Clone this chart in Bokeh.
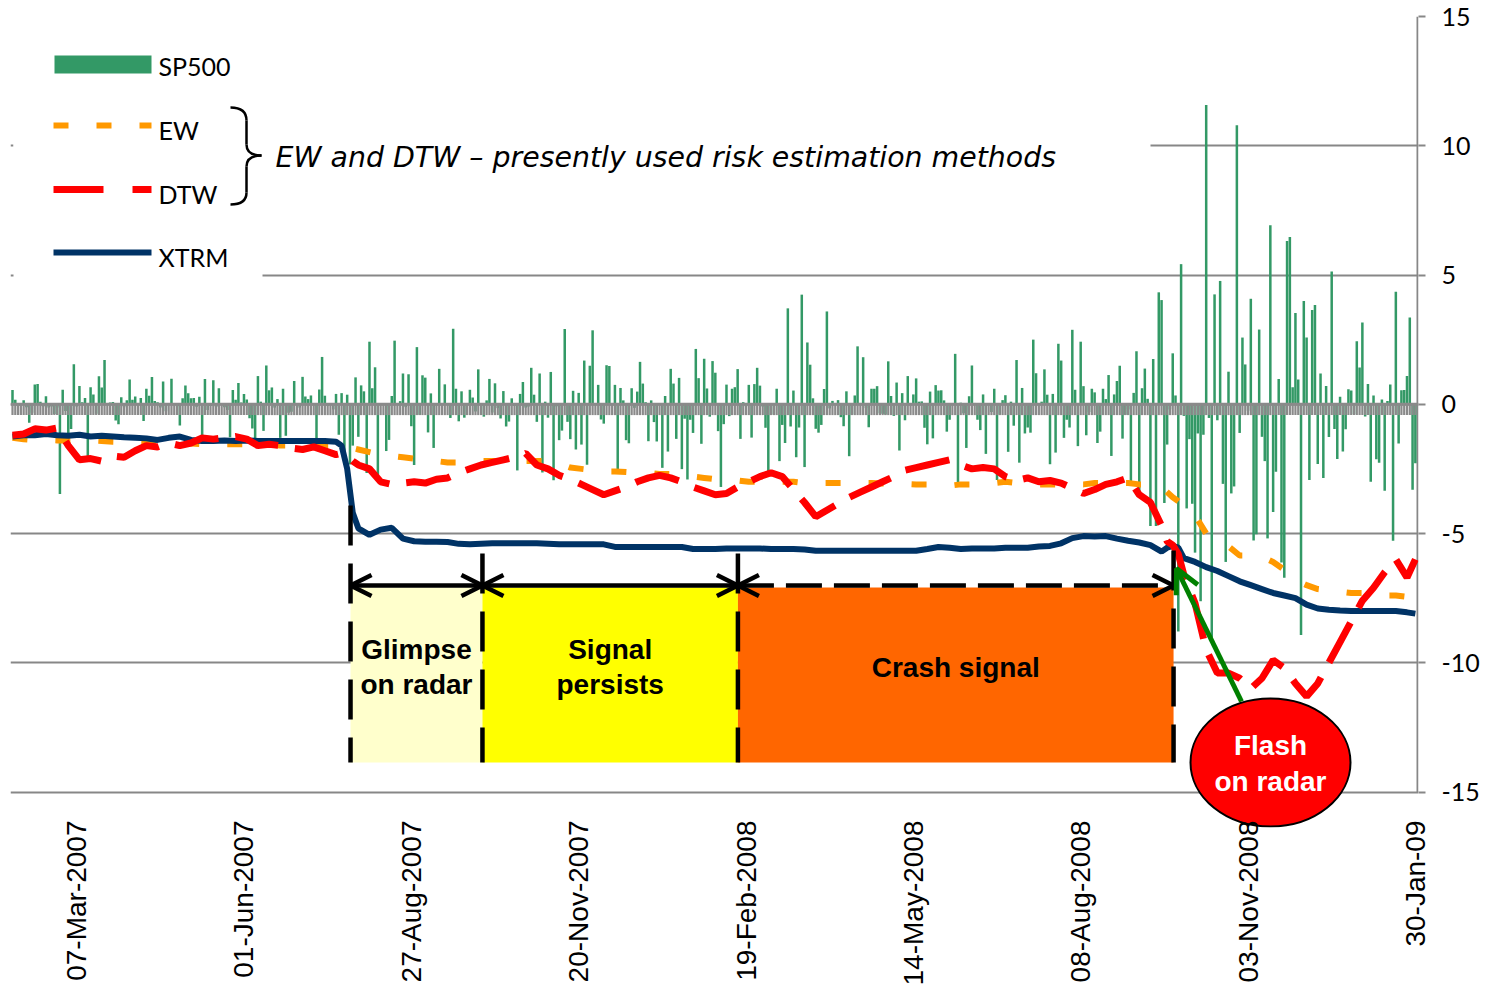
from math import pi
from bokeh.plotting import figure
from bokeh.models import Range1d, FixedTicker, Arrow, OpenHead
from bokeh.core.properties import value
from bokeh.embed import file_html
from bokeh.resources import INLINE

# ---------------- data ----------------
# SP500 daily returns (%) per trading day, Feb-2007 .. Jan-2009
feb07 = [0.55, 0.17, -0.07, 0.05, 0.15, -0.12, -0.72, -0.33, 0.76, 0.78, 0.10, -0.09, 0.31, -0.13, -0.09, -0.38, -0.13, -3.47, 0.56]
mar07 = [-0.26, -1.15, -0.96, 1.55, -0.09, 0.71, 0.08, 0.24, -2.04, 0.66, 0.38, -0.37, 1.08, 0.65, 1.71, -0.03, 0.07, 0.09, -0.63, -0.77, 0.27, -0.12]
apr07 = [0.15, 0.96, 0.17, 0.30, 0.00, 0.24, -0.65, 0.60, 0.33, 1.05, 0.13, 0.08, -0.13, 0.88, -0.27, -0.01, 0.99, -0.02, -0.08, -0.82]
may07 = [0.23, 0.73, 0.43, 0.23, 0.24, -0.10, 0.29, -1.41, 0.98, -0.22, -0.07, 0.93, -0.11, 0.62, -0.03, -0.12, -0.22, -1.28, 0.55, 0.17, 0.82, 0.07]
jun07 = [0.40, 0.18, -0.54, -0.94, -1.50, 1.09, 0.10, -1.03, 1.50, 0.54, 0.65, -0.13, 0.20, -1.30, 0.60, -1.22, -0.33, -0.29, 0.90, -0.03, -0.13]
jul07 = [1.06, 0.30, 0.20, 0.34, 0.04, -1.40, 0.57, 1.83, 0.33, -0.06, 0.01, -0.20, 0.40, -1.18, 0.43, -2.00, 0.37, -2.33, -1.60, 1.04, -1.26]
aug07 = [0.73, 0.50, -2.66, 2.42, 0.62, 1.43, -2.96, 0.04, -0.03, -1.81, -1.38, 0.32, 2.46, -0.03, 0.12, 1.19, -0.11, 1.16, -0.85, -2.35, 2.21, -0.41, 1.12]
sep07 = [1.03, -1.09, 0.42, -1.69, -0.04, 1.37, -0.02, 0.77, 0.03, -0.53, 2.92, 0.60, -0.66, 0.50, -0.52, 0.00, 0.56, 0.26, -0.28]
oct07 = [1.35, -0.05, -0.48, 0.15, 0.98, -0.32, 0.81, -0.15, -0.55, 0.51, -0.86, -0.67, 0.23, -0.06, -2.56, 0.40, 0.86, -0.13, -0.09, 1.41, 0.37, -0.68, 1.19]
nov07 = [-2.64, 0.10, -0.52, 1.25, -2.94, -0.08, -1.39, -1.02, 2.91, -0.68, -1.35, 0.52, -1.75, 0.44, -1.56, 1.69, -2.34, 1.49, 2.86, 0.03, 0.75]
dec07 = [-0.59, -0.75, 1.51, 1.48, -0.04, 0.75, -2.53, 0.63, 0.15, -1.39, -1.51, 0.62, -0.14, 0.49, 1.64, 0.80, 0.08, -1.43, 0.15, -0.69]
jan08 = [-1.44, 0.00, -2.46, 0.32, -1.83, 1.37, 0.80, -1.34, 1.02, -2.51, -0.56, -2.91, -0.60, -1.11, 2.14, 1.01, -1.53, 1.76, 0.61, -0.48, 1.67]
feb08 = [1.22, -1.04, -3.20, -0.77, 0.76, -0.46, 0.60, 0.66, 1.36, -1.34, 0.08, -0.08, 0.75, -1.29, 0.78, 1.41, 0.72, -0.09, -0.91, -2.71]
mar08 = [0.00, -0.40, 0.60, -2.20, -0.80, -1.50, 3.71, -0.86, 0.53, -2.05, -0.90, 4.24, -2.43, 2.39, 1.53, 0.23, -0.95, -1.10, -0.80, 0.59]
apr08 = [3.59, -0.16, 0.13, 0.00, 0.16, -0.50, -0.85, 0.50, -2.01, -0.40, 0.34, 2.24, 0.05, 1.82, -0.15, -0.89, 0.60, 0.60, 0.70, -0.35, -0.37, -0.40]
may08 = [1.66, 0.32, -0.45, 0.84, -1.79, 0.43, -0.62, 1.09, -0.04, 0.38, 1.00, 0.10, 0.11, -0.91, -1.55, 0.49, -1.32, 0.74, 0.53, 0.54, 0.15]
jun08 = [-1.06, -0.60, -0.02, 1.95, -3.09, 0.06, -0.35, -1.69, 0.31, 1.50, 0.05, -0.60, -1.00, 0.38, -1.92, 0.00, -0.30, 0.60, -2.93, -0.40, 0.16]
jul08 = [0.35, -1.84, 0.10, -0.83, 1.71, -2.26, 0.63, -1.13, -0.90, -1.10, 2.50, 1.20, 0.03, 0.10, 1.35, 0.37, -2.32, 0.40, -1.87, 2.34, 1.69, -1.30]
aug08 = [-0.60, -0.90, 2.88, 0.56, -1.62, 2.42, 0.70, -1.20, -0.30, 0.60, 0.46, -1.50, -1.06, 0.60, 0.20, 1.13, -2.00, 0.38, 0.90, 1.49, -1.33]
sep08 = [-0.41, -0.20, -2.99, 0.44, 2.05, -3.41, 0.62, 1.38, 0.21, -4.71, 1.75, -4.71, 4.33, 4.03, -3.82, -1.56, -0.20, 1.97, 0.34, -8.79, 5.42]
oct08 = [-0.45, -4.03, -1.35, -3.85, -5.74, -1.13, -7.62, -1.18, 11.58, -0.53, -9.03, 4.25, -0.62, 4.77, -3.08, -6.10, 1.26, -3.45, -3.18, 10.79, -1.11, 2.58, 1.54]
nov08 = [-0.25, 4.08, -5.27, -5.03, 2.89, -1.26, -2.20, -5.19, 6.92, -4.17, -2.61, 0.98, -6.12, -6.71, 6.32, 6.47, 0.66, 3.53, 0.96]
dec08 = [-8.93, 3.99, 2.58, -2.93, 3.65, 3.84, -2.31, 1.19, -2.85, 0.71, -1.27, 5.14, -0.96, -2.12, 0.29, -1.83, -0.97, 0.58, 0.53, -0.39, 2.44, 1.42]
jan09 = [3.16, -0.47, 0.78, -3.00, 0.34, -2.13, -2.26, 0.18, -3.35, 0.13, 0.76, -5.28, 4.35, -1.52, 0.54, 0.55, 1.09, 3.36, -3.31, -2.28]

sp500 = (feb07 + mar07 + apr07 + may07 + jun07 + jul07 + aug07 + sep07 + oct07 + nov07 + dec07
         + jan08 + feb08 + mar08 + apr08 + may08 + jun08 + jul08 + aug08 + sep08 + oct08 + nov08 + dec08 + jan09)
days = list(range(len(sp500)))

tick_days = [23, 83, 143, 203, 263, 323, 383, 443, 503]
tick_labels = ["07-Mar-2007", "01-Jun-2007", "27-Aug-2007", "20-Nov-2007", "19-Feb-2008",
               "14-May-2008", "08-Aug-2008", "03-Nov-2008", "30-Jan-09"]
y_ticks = [-15, -10, -5, 0, 5, 10, 15]
y_tick_labels = ["-15", "-10", "-5", "0", "5", "10", "15"]

# risk estimates, sampled on these trading days
line_days = [0, 4, 8, 12, 16, 20, 24, 28, 32, 36, 40, 44, 48, 52, 56, 60, 64, 68, 72, 76, 80, 84, 88, 92, 96, 100, 104, 108, 112, 116,
             118, 120, 122, 124,
             128, 132, 136, 140, 144, 148, 152, 156, 160, 164, 168, 172, 176, 180, 184, 188, 192, 196, 200, 204, 208, 212, 216, 220,
             224, 228, 232, 236, 240, 244, 248, 252, 256, 260, 264, 268, 272, 276, 280, 284, 288, 292, 296, 300, 304, 308, 312, 316,
             320, 324, 328, 332, 336, 340, 344, 348, 352, 356, 360, 364, 368, 372, 376, 380, 384, 388, 392, 396, 400, 404, 408, 412,
             414, 416, 418, 420,
             424, 428, 432, 436, 440, 444, 448, 452, 456, 460, 464, 468, 472, 476, 480, 484, 488, 492, 496, 500, 503]

xtrm = [-1.25, -1.2, -1.2, -1.15, -1.2, -1.22, -1.18, -1.25, -1.22, -1.25, -1.28, -1.3, -1.32, -1.38, -1.3, -1.25, -1.38, -1.42, -1.42, -1.4, -1.42, -1.4, -1.42, -1.42, -1.42, -1.42, -1.42, -1.42, -1.42, -1.45,
        -1.6, -2.5, -4.2, -4.8,
        -5.05, -4.85, -4.78, -5.2, -5.3, -5.32, -5.32, -5.33, -5.4, -5.42, -5.4, -5.38, -5.38, -5.38, -5.38, -5.38, -5.4, -5.42, -5.42, -5.42, -5.42, -5.42, -5.52, -5.52,
        -5.52, -5.52, -5.52, -5.52, -5.52, -5.6, -5.6, -5.6, -5.58, -5.58, -5.58, -5.58, -5.6, -5.6, -5.6, -5.62, -5.67, -5.67, -5.67, -5.67, -5.67, -5.67, -5.67, -5.67,
        -5.67, -5.67, -5.6, -5.52, -5.55, -5.6, -5.58, -5.58, -5.58, -5.55, -5.55, -5.55, -5.5, -5.48, -5.38, -5.18, -5.1, -5.12, -5.1, -5.2, -5.28, -5.35, -5.45, -5.7,
        -5.55, -5.48, -5.55, -5.95,
        -6.1, -6.3, -6.45, -6.65, -6.85, -7.0, -7.15, -7.3, -7.4, -7.5, -7.75, -7.9, -7.95, -7.98, -8.0, -8.0, -8.0, -8.0, -8.0, -8.05, -8.1]

dtw = [-1.2, -1.15, -0.95, -1.0, -0.92, -1.6, -2.15, -2.1, -2.2, -2.0, -2.05, -1.8, -1.6, -1.65, -1.5, -1.6, -1.5, -1.3, -1.35, -1.3, -1.25, -1.35, -1.6, -1.55, -1.6, -1.7, -1.75, -1.65, -1.8, -1.95,
       -1.9, -2.0, -2.2, -2.35,
       -2.5, -3.0, -3.1, -3.05, -3.0, -3.05, -2.9, -2.85, -2.65, -2.5, -2.35, -2.25, -2.15, -2.05, -1.9, -2.35, -2.5, -2.75, -2.9, -3.1, -3.3, -3.5, -3.35, -3.2,
       -3.0, -2.85, -2.75, -2.85, -3.0, -3.2, -3.35, -3.5, -3.45, -3.2, -3.0, -2.8, -2.65, -2.8, -3.3, -3.8, -4.35, -4.1, -3.85, -3.6, -3.4, -3.2, -3.0, -2.8,
       -2.55, -2.45, -2.35, -2.25, -2.15, -2.35, -2.5, -2.45, -2.5, -2.8, -2.95, -2.85, -3.0, -2.95, -3.05, -3.25, -3.45, -3.3, -3.1, -3.0, -2.85, -3.5, -3.8, -4.7,
       -5.3, -5.45, -5.8, -6.6,
       -7.7, -9.5, -10.4, -10.4, -10.6, -11.0, -10.6, -9.9, -10.2, -10.8, -11.3, -10.8, -10.0, -9.2, -8.4, -7.6, -7.1, -6.5, -6.0, -6.7, -6.0]

ew = [-1.3, -1.35, -1.38, -1.38, -1.4, -1.4, -1.38, -1.4, -1.42, -1.45, -1.46, -1.48, -1.5, -1.5, -1.5, -1.52, -1.52, -1.55, -1.55, -1.55, -1.55, -1.55, -1.55, -1.55, -1.6, -1.6, -1.6, -1.6, -1.6, -1.6,
      -1.62, -1.65, -1.7, -1.75,
      -1.85, -1.95, -2.0, -2.05, -2.1, -2.2, -2.2, -2.25, -2.25, -2.25, -2.2, -2.2, -2.2, -2.2, -2.2, -2.2, -2.2, -2.3, -2.45, -2.5, -2.55, -2.6, -2.6, -2.62,
      -2.65, -2.65, -2.7, -2.7, -2.7, -2.8, -2.85, -2.9, -2.9, -2.95, -3.0, -3.0, -3.0, -3.0, -3.0, -3.05, -3.05, -3.05, -3.05, -3.05, -3.05, -3.05, -3.07, -3.07,
      -3.08, -3.1, -3.1, -3.15, -3.15, -3.1, -3.1, -3.1, -3.05, -3.0, -3.05, -3.05, -3.1, -3.1, -3.1, -3.1, -3.1, -3.05, -3.05, -3.05, -3.05, -3.1, -3.1, -3.2,
      -3.4, -3.6, -3.75, -3.95,
      -4.3, -5.0, -5.2, -5.5, -5.85, -5.85, -5.9, -6.1, -6.4, -6.8, -7.0, -7.15, -7.2, -7.25, -7.3, -7.3, -7.35, -7.4, -7.4, -7.45, -7.5]

series_names = ["SP500", "EW", "DTW", "XTRM"]
series_colors = ["#339966", "#FF9900", "#FF0000", "#003366"]

# signal phases (trading-day positions)
phase_bounds = [121.2, 168.5, 260.1, 416.3]
phase_line1 = ["Glimpse", "Signal", "Crash signal"]
phase_line2 = ["on radar", "persists", ""]
phase_colors = ["#FFFFCC", "#FFFF00", "#FF6600"]

# ---------------- geometry ----------------
W, H = 1494, 989
PPX = 2.789
PPY = 25.85
FL, FR, FT, FB = 10, 1418, 16, 827          # frame edges in page pixels
X_LO = -(12 - FL) / PPX
X_HI = X_LO + (FR - FL) / PPX
Y_HI = 15.0
Y_LO = Y_HI - (FB - FT) / PPY


def dx(px):
    return X_LO + (px - FL) / PPX


def dy(py):
    return Y_HI - (py - FT) / PPY


GRID = "#878787"

p = figure(width=W, height=H, x_range=Range1d(X_LO, X_HI), y_range=Range1d(Y_LO, Y_HI),
           y_axis_location="right", output_backend="svg", toolbar_location=None,
           min_border_left=FL, min_border_right=W - FR,
           min_border_top=FT, min_border_bottom=H - FB)
p.outline_line_color = None
p.background_fill_color = "white"
p.border_fill_color = "white"

p.xgrid.visible = False
p.ygrid.ticker = FixedTicker(ticks=y_ticks)
p.ygrid.grid_line_color = GRID
p.ygrid.grid_line_width = 2

ya = p.yaxis[0]
ya.ticker = FixedTicker(ticks=y_ticks)
ya.major_label_overrides = {t: s for t, s in zip(y_ticks, y_tick_labels)}
ya.axis_line_color = None
ya.major_tick_out = 7
ya.major_tick_in = 0
ya.major_tick_line_color = GRID
ya.major_tick_line_width = 2
ya.minor_tick_line_color = None
ya.major_label_standoff = 16
ya.major_label_text_font = "Lato"
ya.major_label_text_font_size = "25px"
ya.major_label_text_color = "black"

xa = p.xaxis[0]
xa.ticker = FixedTicker(ticks=tick_days)
xa.major_label_overrides = {t: s for t, s in zip(tick_days, tick_labels)}
xa.axis_line_color = None
xa.major_tick_line_color = None
xa.minor_tick_line_color = None
xa.major_tick_out = 0
xa.major_tick_in = 0
xa.major_label_orientation = pi / 2
xa.major_label_standoff = -7
xa.major_label_text_font = "Liberation Sans"
xa.major_label_text_font_size = "28px"
xa.major_label_text_color = "black"

# right axis line (15 .. -15)
p.segment(x0=[dx(1417)], y0=[15], x1=[dx(1417)], y1=[-15], line_color=GRID, line_width=2)

# SP500 bars
p.vbar(x=days, top=sp500, bottom=0, width=0.9, fill_color=series_colors[0], line_color=None)

# category axis at zero with tick marks at every day
p.segment(x0=[X_LO], y0=[0], x1=[X_HI], y1=[0], line_color="#8a8a8a", line_width=3)
p.segment(x0=days, y0=0, x1=days, y1=-0.42, line_color="#8a8a8a", line_width=2.2)

# risk lines
p.line(line_days, ew, line_color=series_colors[1], line_width=6, line_dash="15 28")
p.line(line_days, xtrm, line_color=series_colors[3], line_width=6)
p.line(line_days, dtw, line_color=series_colors[2], line_width=7, line_dash="45 17")

# phase boxes
box_top, box_bot = dy(587), dy(762)
p.quad(left=phase_bounds[:-1], right=phase_bounds[1:], top=box_top, bottom=box_bot,
       fill_color=phase_colors, line_color=None)
v_tops = [dy(505), dy(553), dy(553), dy(550)]
p.segment(x0=phase_bounds, y0=v_tops, x1=phase_bounds, y1=box_bot,
          line_color="black", line_width=4.5, line_dash="40 18")

arrow_y = dy(585)
for i in range(3):
    p.add_layout(Arrow(x_start=phase_bounds[i], y_start=arrow_y, x_end=phase_bounds[i + 1], y_end=arrow_y,
                       start=OpenHead(size=21, line_width=4.5, line_color="black"),
                       end=OpenHead(size=21, line_width=4.5, line_color="black"),
                       line_color="black", line_width=4.5,
                       line_dash="solid" if i < 2 else "36 12"))

mids = [(phase_bounds[i] + phase_bounds[i + 1]) / 2 for i in range(3)]
p.text(x=mids[:2], y=[dy(649)] * 2, text=phase_line1[:2], text_align="center", text_baseline="middle",
       text_font=value("Liberation Sans"), text_font_style="bold", text_font_size="28px", text_color="black")
p.text(x=mids[:2], y=[dy(684)] * 2, text=phase_line2[:2], text_align="center", text_baseline="middle",
       text_font=value("Liberation Sans"), text_font_style="bold", text_font_size="28px", text_color="black")
p.text(x=[mids[2]], y=[dy(667)], text=[phase_line1[2]], text_align="center", text_baseline="middle",
       text_font=value("Liberation Sans"), text_font_style="bold", text_font_size="28px", text_color="black")

# white legend / title boxes
p.quad(left=[dx(13)], right=[dx(262)], top=[dy(25)], bottom=[dy(284)], fill_color="white", line_color=None)
p.quad(left=[dx(13)], right=[dx(1150)], top=[dy(128)], bottom=[dy(190)], fill_color="white", line_color=None)

# legend swatches
p.quad(left=[dx(54)], right=[dx(151)], top=[dy(55)], bottom=[dy(73)], fill_color=series_colors[0], line_color=None)
p.segment(x0=[dx(53)], y0=[dy(125)], x1=[dx(151)], y1=[dy(125)], line_color=series_colors[1], line_width=6, line_dash="15 28")
p.segment(x0=[dx(53)], y0=[dy(189)], x1=[dx(151)], y1=[dy(189)], line_color=series_colors[2], line_width=7, line_dash="50 29")
p.segment(x0=[dx(53)], y0=[dy(252)], x1=[dx(151)], y1=[dy(252)], line_color=series_colors[3], line_width=6)
p.text(x=[dx(158)] * 4, y=[dy(65), dy(129), dy(193), dy(256)], text=series_names,
       text_font=value("Lato"), text_font_size="25px", text_baseline="middle", text_align="left", text_color="black")

# brace
p.quadratic(x0=[dx(230), dx(246), dx(261), dx(246)], y0=[dy(107), dy(144), dy(155), dy(192)],
            x1=[dx(246), dx(261), dx(246), dx(230)], y1=[dy(120), dy(155), dy(166), dy(204)],
            cx=[dx(246), dx(246), dx(246), dx(246)], cy=[dy(107), dy(155), dy(155), dy(204)],
            line_color="black", line_width=2.5)
p.segment(x0=[dx(246), dx(246)], y0=[dy(120), dy(166)], x1=[dx(246), dx(246)], y1=[dy(144), dy(192)],
          line_color="black", line_width=2.5)
p.text(x=[dx(275)], y=[dy(157)], text=["EW and DTW \u2013 presently used risk estimation methods"],
       text_font=value("DejaVu Sans"), text_font_style="italic", text_font_size="28.4px",
       text_baseline="middle", text_align="left", text_color="black")

# flash on radar
p.ellipse(x=[dx(1270)], y=[dy(762)], width=160 / PPX, height=128 / PPY,
          fill_color="#FF0000", line_color="black", line_width=2)
p.text(x=[dx(1270)] * 2, y=[dy(745), dy(781)], text=["Flash", "on radar"], text_align="center",
       text_baseline="middle", text_font=value("Liberation Sans"), text_font_style="bold",
       text_font_size="28px", text_color="white")
p.add_layout(Arrow(x_start=dx(1241), y_start=dy(701), x_end=dx(1176), y_end=dy(568),
                   end=OpenHead(size=24, line_width=5, line_color="#008000"),
                   line_color="#008000", line_width=5))

open("out.html", "w").write(file_html(p, INLINE))
